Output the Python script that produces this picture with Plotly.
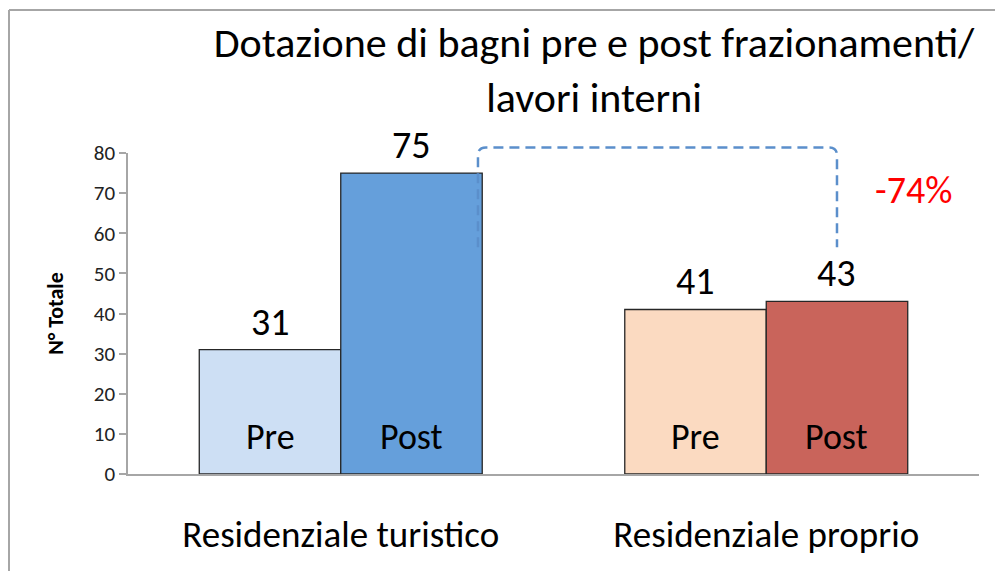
import plotly.graph_objects as go

# ---- data ----
categories = ["Residenziale turistico", "Residenziale proprio"]
series_names = ["Pre", "Post"]
pre_values = [31, 41]
post_values = [75, 43]
change_label = "-74%"
y_ticks = [0, 10, 20, 30, 40, 50, 60, 70, 80]
title_lines = ["Dotazione di bagni pre e post frazionamenti/", "lavori interni"]
y_title = "N° Totale"

# ---- styles ----
FONT = "Carlito, Open Sans, sans-serif"
pre_colors = ["#cddff4", "#fbdac1"]
post_colors = ["#659fdb", "#c9645b"]
W, H = 995, 571
L, R, T, B = 128, 16, 153, 97
PW, PH = W - L - R, H - T - B
BARGAP = 0.335
XMIN, XMAX = -0.5, len(categories) - 0.5
YMIN, YMAX = 0, 80

xs = list(range(len(categories)))
bar_w = (1 - BARGAP) / 2
off_pre, off_post = -bar_w / 2, bar_w / 2

fig = go.Figure()
fig.add_trace(go.Bar(x=xs, y=pre_values, name=series_names[0],
                     marker=dict(color=pre_colors, line=dict(color="#262626", width=1.3))))
fig.add_trace(go.Bar(x=xs, y=post_values, name=series_names[1],
                     marker=dict(color=post_colors, line=dict(color="#262626", width=1.3))))

ann = []
for vals, off, nm in [(pre_values, off_pre, series_names[0]), (post_values, off_post, series_names[1])]:
    for i, v in enumerate(vals):
        ann.append(dict(x=i + off, y=v, xref="x", yref="y", text=str(v), showarrow=False,
                        yanchor="middle", yshift=28, font=dict(family=FONT, size=38, color="#000")))
        ann.append(dict(x=i + off, y=0, xref="x", yref="y", text=nm, showarrow=False,
                        yanchor="middle", yshift=37, font=dict(family=FONT, size=36, color="#000")))

ann.append(dict(x=1.345, y=70.7, xref="x", yref="y", text=change_label, showarrow=False,
                font=dict(family=FONT, size=38, color="#ff0000")))

def px(x):
    return (x - XMIN) / (XMAX - XMIN)

def py(y):
    return (y - YMIN) / (YMAX - YMIN)

# bracket linking the two "Post" bars
bx0 = px(0 + off_post + bar_w / 2 - 0.01)
bx1 = px(1 + off_post)
by_top = py(81.4)
by_bot = py(56.5)
rx = 8 / PW
ry = 8 / PH
path = (f"M {bx0},{by_bot} L {bx0},{by_top - ry} Q {bx0},{by_top} {bx0 + rx},{by_top} "
        f"L {bx1 - rx},{by_top} Q {bx1},{by_top} {bx1},{by_top - ry} L {bx1},{by_bot}")
shapes = [dict(type="path", path=path, xref="paper", yref="paper",
               line=dict(color="#5b8fcb", width=2.5, dash="10px,6px"), layer="above")]

# outer frame (top and left edges visible)
fx = -(L - 9) / PW
fy = 1 + (T - 10) / PH
shapes.append(dict(type="line", xref="paper", yref="paper", x0=fx, x1=(W - L) / PW + 0.01, y0=fy, y1=fy,
                   line=dict(color="#a6a6a6", width=2)))
shapes.append(dict(type="line", xref="paper", yref="paper", x0=fx, x1=fx, y0=fy, y1=-(B + 5) / PH,
                   line=dict(color="#a6a6a6", width=2)))

fig.update_layout(
    width=W, height=H,
    margin=dict(l=L, r=R, t=T, b=B),
    paper_bgcolor="white", plot_bgcolor="white",
    barmode="group", bargap=BARGAP, bargroupgap=0,
    showlegend=False,
    title=dict(text="<br>".join(title_lines), x=(594 - L) / PW, xref="paper", xanchor="center",
               y=1 - 57 / H, yref="container", yanchor="middle",
               font=dict(family=FONT, size=42, color="#000")),
    annotations=ann,
    shapes=shapes,
    xaxis=dict(range=[XMIN, XMAX], tickvals=xs, ticktext=categories, showgrid=False, zeroline=False,
               showline=True, linecolor="#a6a6a6", linewidth=1.5, ticks="",
               tickfont=dict(family=FONT, size=37, color="#000"), ticklabelstandoff=27),
    yaxis=dict(range=[YMIN, YMAX], tickvals=y_ticks, showgrid=False, zeroline=False,
               showline=True, linecolor="#a6a6a6", linewidth=1.5, ticks="outside", ticklen=7,
               tickcolor="#a6a6a6", tickwidth=1.5,
               tickfont=dict(family=FONT, size=21, color="#222"),
               title=dict(text="<b>" + y_title + "</b>", standoff=24,
                          font=dict(family=FONT, size=22, color="#000"))),
)

fig.write_html("out.html", config={"displayModeBar": False},
               post_script="document.body.style.margin='0';")
